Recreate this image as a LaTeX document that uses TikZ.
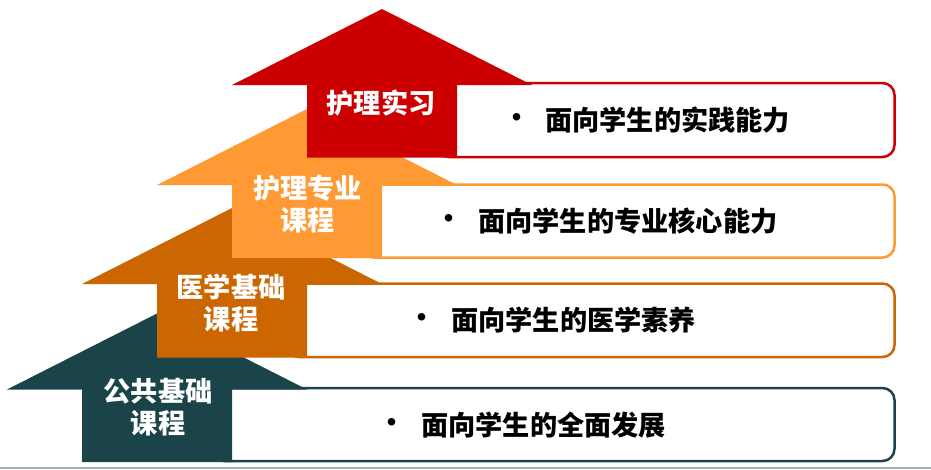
\documentclass[tikz,border=0pt]{standalone}
\usepackage{fontspec}
\newfontfamily\cjk{Noto Sans CJK SC}
\definecolor{cteal}{HTML}{1B444A}
\definecolor{corange}{HTML}{CC6600}
\definecolor{clight}{HTML}{FF9933}
\definecolor{cred}{HTML}{CC0000}
\definecolor{cgray}{HTML}{A9B0B4}
\begin{document}
\begin{tikzpicture}[x=1pt,y=-1pt,
  lab/.style={text=white,font=\cjk\bfseries\fontsize{27.2}{32}\selectfont,align=center,inner sep=0pt},
  item/.style={text=black,font=\cjk\bfseries\fontsize{27.2}{32}\selectfont,anchor=west,inner sep=0pt},
  dotmark/.style={text=black,font=\cjk\bfseries\fontsize{27}{32}\selectfont,inner sep=0pt},
  boxline/.style={draw=#1,line width=2.5pt,fill=white,rounded corners=12pt},
  baseline rule/.style={draw=cgray,line width=1.5pt}]
\useasboundingbox (0,0) rectangle (931,469);
\draw[baseline rule] (0,468) -- (931,468);
% level 1: teal
\path[boxline=cteal] (212,388) rectangle (894.5,461);
\fill[cteal] (82,462) -- (82,389.5) -- (7,389.5) -- (157,313.5) -- (307,389.5) -- (232,389.5) -- (232,462) -- cycle;
% level 2: orange
\path[boxline=corange] (287,283.5) rectangle (894.5,357);
\fill[corange] (157,357.5) -- (157,284) -- (82,284) -- (232,208) -- (382,284) -- (307,284) -- (307,357.5) -- cycle;
% level 3: light orange
\path[boxline=clight] (362,184.5) rectangle (894.5,257.5);
\fill[clight] (232,258) -- (232,185) -- (157,185) -- (307,109) -- (457,185) -- (382,185) -- (382,258) -- cycle;
% level 4: red
\path[boxline=cred] (437,83) rectangle (894.5,157);
\fill[cred] (307,157.5) -- (307,85) -- (232,85) -- (382,9) -- (532,85) -- (457,85) -- (457,157.5) -- cycle;
% labels
\node[lab] (l1) at (158,407) {公共基础\\课程};
\node[lab] (l2) at (231,303) {医学基础\\课程};
\node[lab] (l3) at (307.5,204) {护理专业\\课程};
\node[lab] (l4) at (381,102.5) {护理实习};
% bullet items
\node[dotmark] (b1) at (392,425) {•};
\node[item] (t1) at (421,425) {面向学生的全面发展};
\node[dotmark] (b2) at (422,320.5) {•};
\node[item] (t2) at (451,320.5) {面向学生的医学素养};
\node[dotmark] (b3) at (449,221) {•};
\node[item] (t3) at (478,221) {面向学生的专业核心能力};
\node[dotmark] (b4) at (517,120) {•};
\node[item] (t4) at (545,120) {面向学生的实践能力};
\end{tikzpicture}
\end{document}
